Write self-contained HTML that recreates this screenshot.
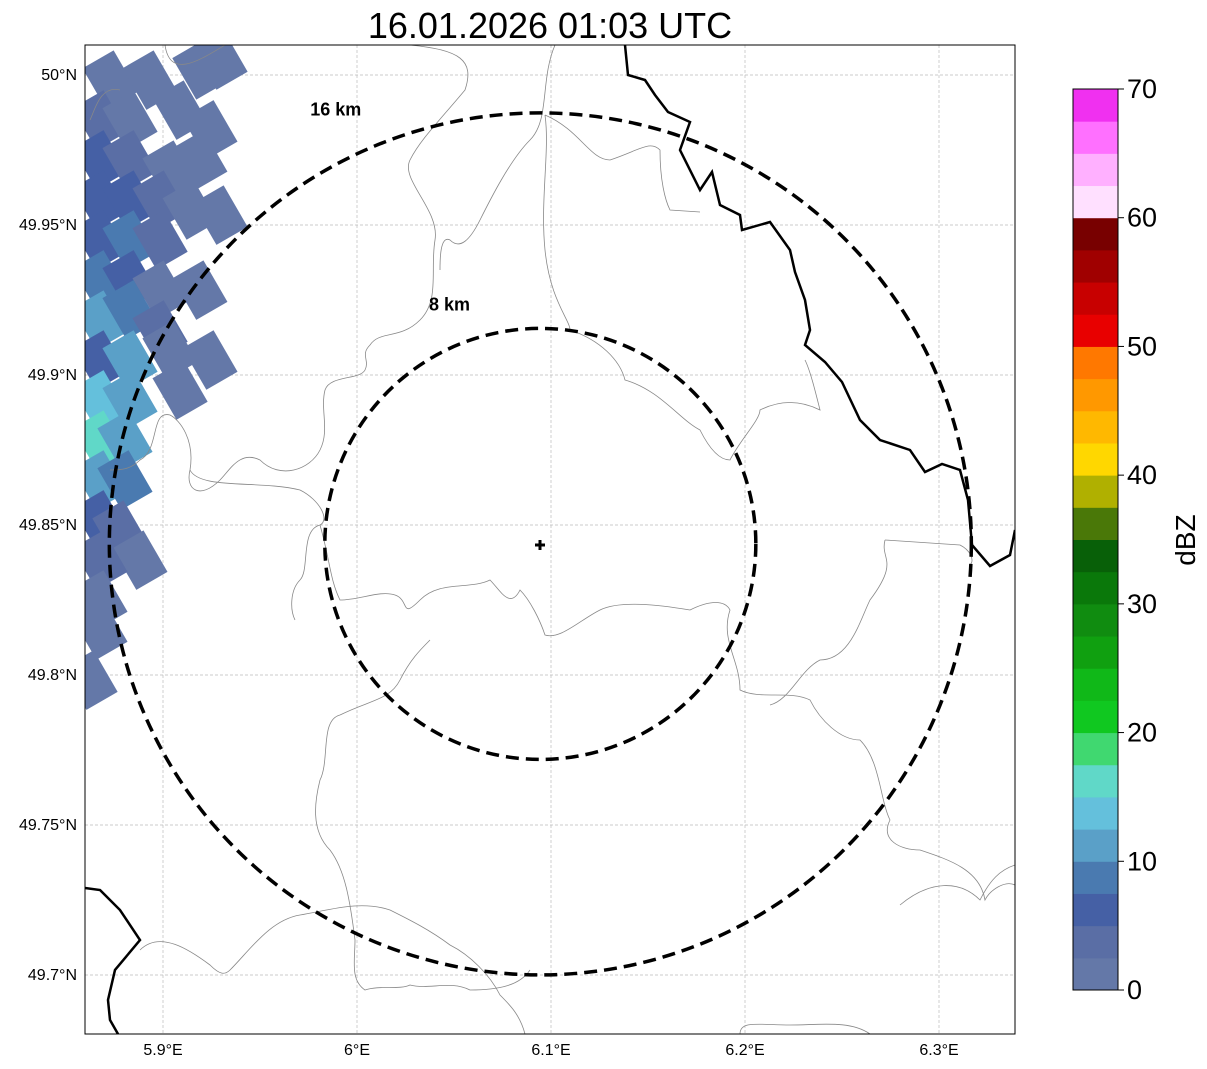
<!DOCTYPE html>
<html><head><meta charset="utf-8">
<style>
body{margin:0;background:#fff;width:1207px;height:1069px;overflow:hidden;font-family:"Liberation Sans",sans-serif}
svg{position:absolute;left:0;top:0}
</style></head>
<body>
<svg id="chart" width="1207" height="1069">
<defs><clipPath id="mapclip"><rect x="85" y="45" width="930" height="989"/></clipPath></defs>
<text x="550" y="38" font-size="36" text-anchor="middle">16.01.2026 01:03 UTC</text>
<g id="grid"></g>
<g id="echo" clip-path="url(#mapclip)"></g>
<g clip-path="url(#mapclip)" fill="none" stroke="#888" stroke-width="0.8">
<path d="M225,45 C200,60 170,80 165,45 M120,90 C100,85 95,110 90,120"/>
<path d="M410,45 C460,50 475,60 465,90 C440,120 420,140 410,160 C400,180 440,210 435,240 C430,270 440,300 420,320 C400,340 380,330 370,345 C360,355 370,360 365,370 C360,380 330,375 325,390 C320,410 330,430 320,450 C310,470 280,480 260,460 C240,450 230,470 220,480 C200,500 185,490 190,470 C195,440 180,420 170,415 C150,410 160,450 140,460 C130,470 120,470 110,470"/>
<path d="M190,470 C200,490 260,480 300,490 C320,500 330,520 320,525 C300,530 310,570 300,580 C290,590 290,610 295,620"/>
<path d="M320,525 C330,560 330,580 340,600 C360,600 380,590 395,595 C410,600 400,620 420,600 C440,580 470,590 490,580 C500,590 510,610 520,590 C530,600 540,620 545,635 C560,640 580,620 600,610 C620,600 660,605 690,610 C710,600 725,600 730,610 C720,640 740,660 740,690 C760,700 790,690 810,700 C820,720 840,740 860,740 C880,760 880,800 890,820 C880,840 900,850 920,850 C950,860 980,870 985,900 C990,890 1005,880 1015,885"/>
<path d="M555,45 C540,80 550,120 530,140 C510,160 490,200 480,220 C470,240 460,250 450,240 C440,235 440,260 440,270"/>
<path d="M545,115 C550,150 540,200 545,250 C550,300 570,320 570,330 C600,340 620,360 625,380 C660,390 680,420 700,430 C710,450 720,460 730,460 C740,440 760,420 760,410 C780,400 800,400 820,410 C815,390 810,370 805,360"/>
<path d="M545,115 C580,130 590,160 610,160 C640,150 650,140 660,150 C660,180 665,200 670,210 L700,212"/>
<path d="M885,540 C880,560 900,560 870,600 C860,620 850,660 820,660 C800,670 790,700 770,705"/>
<path d="M885,540 L960,545 C970,550 975,560 970,565"/>
<path d="M340,715 C320,720 330,760 320,780 C315,800 310,830 330,850 C345,870 350,900 355,940 C355,960 350,980 365,990 C380,985 400,990 410,985 C430,990 450,980 470,990 C500,990 520,985 530,970"/>
<path d="M340,715 C370,700 390,700 400,680 C410,660 420,650 430,640"/>
<path d="M140,950 C160,930 190,950 210,965 C220,975 225,975 230,970 C250,950 270,920 300,915 C330,910 360,900 390,910 C410,920 430,930 450,945 C470,955 490,975 500,995 C510,1005 520,1015 525,1034"/>
<path d="M740,1034 C740,1020 760,1025 790,1025 C820,1025 850,1020 870,1034"/>
<path d="M900,905 C930,880 960,880 980,900 C990,880 1000,870 1015,865"/>
</g>
<g clip-path="url(#mapclip)" fill="none" stroke="#000" stroke-width="2.5">
<path d="M625,45 L628,75 L645,80 L655,95 L668,112 L690,122 L680,150 L700,190 L712,172 L720,205 L740,215 L742,230 L770,222 L790,250 L795,272 L805,300 L810,330 L805,345 L825,362 L842,382 L860,420 L880,440 L910,450 L925,472 L942,464 L960,470 L968,500 L972,545 L990,566 L1010,555 L1015,530"/>
<path d="M85,888 L100,890 L120,910 L140,940 L115,970 L108,1000 L110,1020 L118,1034"/>
</g>
<g id="rings"></g>
<g><path d="M535,545 H545 M540,540 V550" stroke="#000" stroke-width="3"/></g>
<rect x="85" y="45" width="930" height="989" fill="none" stroke="#000" stroke-width="1"/>
<g id="axes" font-size="16"></g>
<g id="cbar"></g>
<text x="1195" y="540" font-size="28" text-anchor="middle" transform="rotate(-90 1195 540)">dBZ</text>
</svg>
<script>
const latTicks=[50,49.95,49.9,49.85,49.8,49.75,49.7];
const lonTicks=[5.9,6.0,6.1,6.2,6.3];
const lonLabels=["5.9°E","6°E","6.1°E","6.2°E","6.3°E"];
const latLabels=["50°N","49.95°N","49.9°N","49.85°N","49.8°N","49.75°N","49.7°N"];
const ringKm=[8,16];
const ringLabels=["8 km","16 km"];
const cbarTicks=[0,10,20,30,40,50,60,70];
const cbarColors=["#6478a8","#5a6ea5","#4560a5","#4a7ab0","#5aa0c8","#64c0dc","#60d8c8","#40d870","#10c820","#10b818","#10a010","#108c10","#0a780a","#086008","#4a7808","#b0b000","#ffd700","#ffb800","#ff9800","#ff7800","#e80000","#c80000","#a00000","#780000","#ffe0ff","#ffb0ff","#ff70ff","#f030f0"];
const cellLon=[5.8727,5.8933,5.919,5.9294,5.8675,5.883,5.9088,5.9242,5.8675,5.883,5.9036,5.919,5.8675,5.883,5.8985,5.914,5.9294,5.8675,5.883,5.8985,5.8675,5.883,5.8985,5.8675,5.883,5.8985,5.8675,5.883,5.9036,5.8675,5.883,5.9088,5.8675,5.8804,5.8675,5.8804,5.8675,5.8778,5.8881,5.8675,5.8675,5.8675,5.8624,5.9242,5.919];
const cellLat=[49.9983,49.9983,50.0017,50.005,49.985,49.985,49.9883,49.9817,49.9717,49.9717,49.9683,49.9717,49.9583,49.9583,49.9583,49.955,49.9533,49.945,49.945,49.945,49.9317,49.9317,49.9283,49.9183,49.9217,49.915,49.905,49.905,49.9083,49.8917,49.8917,49.895,49.8783,49.8783,49.865,49.865,49.8517,49.8483,49.8383,49.8383,49.825,49.815,49.7983,49.905,49.9283];
const cellDbz=[1,1,1,0,3,1,1,2,5,3,1,1,7,5,3,1,1,6,8,3,8,6,2,10,9,3,6,11,1,13,10,1,15,12,12,8,5,3,1,4,2,1,1,1,1];

const NS="http://www.w3.org/2000/svg";
const xOf=lon=>357+(lon-6.0)*1940;
const yOf=lat=>525+(49.85-lat)*3000;
function mk(tag,attrs,parent){const e=document.createElementNS(NS,tag);for(const k in attrs)e.setAttribute(k,attrs[k]);parent.appendChild(e);return e;}
const grid=document.getElementById('grid'),axes=document.getElementById('axes');
latTicks.forEach((v,i)=>{const y=yOf(v);
 const l=mk('line',{x1:85,x2:1015,y1:y,y2:y,stroke:'#bbb','stroke-width':0.7,'stroke-dasharray':'3,2'},grid);
 
 
 const t=mk('text',{x:77,y:y+5,'text-anchor':'end'},axes);t.textContent=latLabels[i];
 
 });
lonTicks.forEach((v,i)=>{const x=xOf(v);
 const l=mk('line',{x1:x,x2:x,y1:45,y2:1034,stroke:'#bbb','stroke-width':0.7,'stroke-dasharray':'3,2'},grid);
 
 
 const t=mk('text',{x:x,y:1055,'text-anchor':'middle'},axes);t.textContent=lonLabels[i];
 
 });
const echo=document.getElementById('echo');
const dbzColor=d=>cbarColors[Math.max(0,Math.min(27,Math.floor(d/2.5)))];
cellLon.forEach((lo,i)=>{const x=xOf(lo),y=yOf(cellLat[i]);
 const r=mk('rect',{x:x-18,y:y-24,width:36,height:48,fill:dbzColor(cellDbz[i]),transform:`rotate(-30 ${x} ${y})`},echo);
 
 });
const rings=document.getElementById('rings');
const cx=xOf(6.0945),cy=yOf(49.8437),pxPerKm=431/16;
ringKm.forEach((k,i)=>{const r=k*pxPerKm;
 const c=mk('circle',{cx:cx,cy:cy,r:r,fill:'none',stroke:'#000','stroke-width':3.5,'stroke-dasharray':'13,7'},rings);
 
 
 const t=mk('text',{x:cx-r*0.528+23,y:cy-r*0.903-39,'font-size':18,'font-weight':'bold','text-anchor':'middle'},rings);t.textContent=ringLabels[i];
 
 });
const cbar=document.getElementById('cbar');
const cbY=v=>990-(v/70)*901;
cbarColors.forEach((c,i)=>{const r=mk('rect',{x:1073,y:cbY((i+1)*2.5),width:45,height:cbY(i*2.5)-cbY((i+1)*2.5)+0.5,fill:c},cbar);
 
 });
mk('rect',{x:1073,y:89,width:45,height:901,fill:'none',stroke:'#000','stroke-width':1},cbar);
cbarTicks.forEach(v=>{const y=cbY(v);mk('line',{x1:1118,x2:1124,y1:y,y2:y,stroke:'#000'},cbar);
 const t=mk('text',{x:1127,y:y+9,'font-size':27},cbar);t.textContent=v;
 
 });
</script>
</body></html>
